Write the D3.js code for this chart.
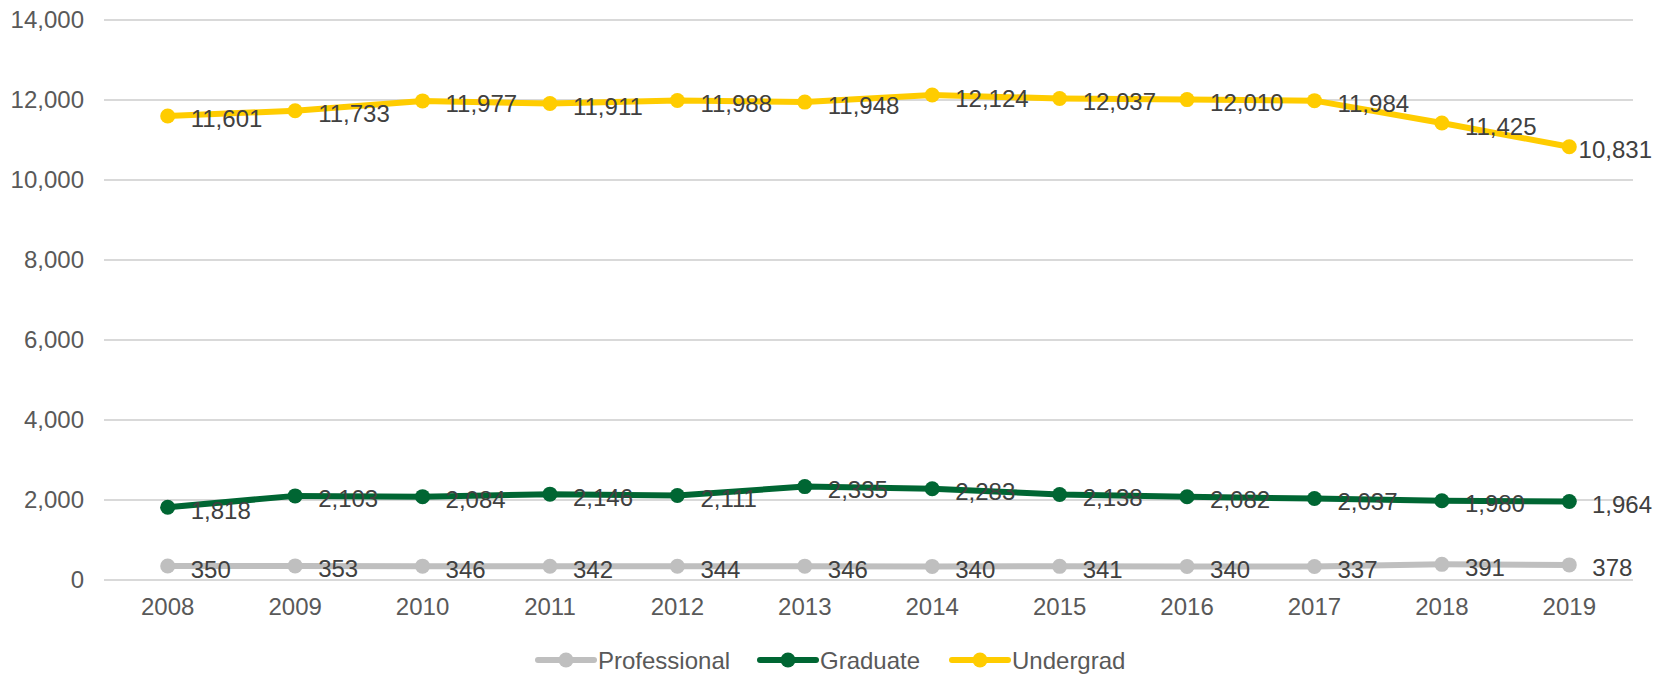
<!DOCTYPE html>
<html>
<head>
<meta charset="utf-8">
<script src="https://cdn.jsdelivr.net/npm/d3@7"></script>
<style>
  body { margin: 0; background: #fff; }
  svg { display: block; font-family: "Liberation Sans", Arial, sans-serif; }
</style>
</head>
<body>
<svg id="chart"></svg>
<script>
const years = ["2008","2009","2010","2011","2012","2013","2014","2015","2016","2017","2018","2019"]
const professional = [350, 353, 346, 342, 344, 346, 340, 341, 340, 337, 391, 378]
const graduate = [1818, 2103, 2084, 2146, 2111, 2335, 2283, 2138, 2082, 2037, 1980, 1964]
const undergrad = [11601, 11733, 11977, 11911, 11988, 11948, 12124, 12037, 12010, 11984, 11425, 10831]
const yTicks = [0, 2000, 4000, 6000, 8000, 10000, 12000, 14000]

const series = [
  {name: "Professional", values: professional, color: "#bfbfbf"},
  {name: "Graduate", values: graduate, color: "#006633"},
  {name: "Undergrad", values: undergrad, color: "#ffcc00"}
]

const width = 1673, height = 674
const margin = {top: 20, right: 40, bottom: 94, left: 104}
const labelLimit = 1652 // labels are kept inside the chart area

const svg = d3.select('#chart')
  .attr('width', width)
  .attr('height', height)

const x = d3.scaleBand()
  .domain(years)
  .range([margin.left, width - margin.right])

const y = d3.scaleLinear()
  .domain([0, 14000])
  .range([height - margin.bottom, margin.top])

const fmt = d3.format(",")

// gridlines
svg.append('g')
  .selectAll('line')
  .data(yTicks)
  .join('line')
    .attr('x1', margin.left)
    .attr('x2', width - margin.right)
    .attr('y1', d => y(d))
    .attr('y2', d => y(d))
    .attr('stroke', '#d9d9d9')
    .attr('stroke-width', 2)

// y axis
const yAxis = svg.append('g')
  .attr('transform', 'translate(' + (margin.left - 20) + ',0)')
  .call(d3.axisLeft(y).tickValues(yTicks).tickFormat(fmt).tickSize(0).tickPadding(0))
yAxis.select('.domain').remove()
yAxis.selectAll('text')
  .attr('font-size', 24)
  .attr('fill', '#595959')
  .attr('font-family', '"Liberation Sans", Arial, sans-serif')

// x axis
const xAxis = svg.append('g')
  .attr('transform', 'translate(0,' + (height - margin.bottom) + ')')
  .call(d3.axisBottom(x).tickSize(0).tickPadding(18))
xAxis.select('.domain').remove()
xAxis.selectAll('text')
  .attr('font-size', 24)
  .attr('fill', '#595959')
  .attr('font-family', '"Liberation Sans", Arial, sans-serif')

const cx = d => x(d) + x.bandwidth() / 2

const line = d3.line()
  .x((d, i) => cx(years[i]))
  .y(d => y(d))

series.forEach(s => {
  const g = svg.append('g')
  g.append('path')
    .datum(s.values)
    .attr('fill', 'none')
    .attr('stroke', s.color)
    .attr('stroke-width', 6)
    .attr('stroke-linejoin', 'round')
    .attr('d', line)
  g.selectAll('circle')
    .data(s.values)
    .join('circle')
      .attr('cx', (d, i) => cx(years[i]))
      .attr('cy', d => y(d))
      .attr('r', 7.5)
      .attr('fill', s.color)
})

// data labels
series.forEach(s => {
  svg.append('g')
    .selectAll('text')
    .data(s.values)
    .join('text')
      .attr('x', (d, i) => cx(years[i]) + 23)
      .attr('y', d => y(d) + 3)
      .attr('dominant-baseline', 'central')
      .attr('font-size', 24)
      .attr('fill', '#404040')
      .text(d => fmt(d))
      .each(function() {
        const t = d3.select(this)
        const w = this.getComputedTextLength()
        const x0 = +t.attr('x')
        if (x0 + w > labelLimit) t.attr('x', labelLimit - w)
      })
})

// legend
const legendX = [538, 760, 952]
const legend = svg.append('g')
  .attr('transform', 'translate(0,' + 660 + ')')
series.forEach((s, i) => {
  const g = legend.append('g').attr('transform', 'translate(' + legendX[i] + ',0)')
  g.append('line')
    .attr('x1', 0).attr('x2', 56)
    .attr('stroke', s.color)
    .attr('stroke-width', 6)
    .attr('stroke-linecap', 'round')
  g.append('circle')
    .attr('cx', 28).attr('r', 7.5)
    .attr('fill', s.color)
  g.append('text')
    .attr('x', 60)
    .attr('dominant-baseline', 'central')
    .attr('font-size', 24)
    .attr('fill', '#595959')
    .text(s.name)
})
</script>
</body>
</html>
